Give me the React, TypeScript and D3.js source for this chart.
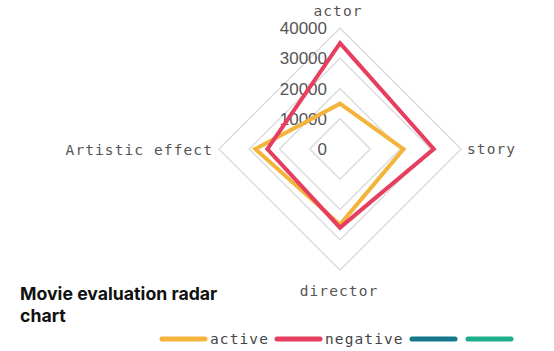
import React from "react";
import * as d3 from "d3";

const indicators = ["actor", "story", "director", "Artistic effect"];
const seriesNames = ["active", "negative", "", ""];
const activeValues = [15000, 21000, 25000, 28000];
const negativeValues = [35000, 31000, 26000, 24000];
const colors = ["#f4b43c", "#e53e5e", "#15788a", "#1eae8c"];
const gridLevels = [10000, 20000, 30000, 40000];
const tickLabels = [0, 10000, 20000, 30000, 40000];

const W = 554;
const H = 351;
const cx = 340;
const cy = 149;
const R = 121;

export default function App() {
  const r = d3.scaleLinear().domain([0, 40000]).range([0, R]);
  const angle = d3
    .scaleOrdinal<string, number>()
    .domain(indicators)
    .range([-Math.PI / 2, 0, Math.PI / 2, Math.PI]);
  const pt = (name: string, v: number): [number, number] => [
    cx + r(v) * Math.cos(angle(name)),
    cy + r(v) * Math.sin(angle(name)),
  ];
  const line = d3.line<[number, number]>().curve(d3.curveLinearClosed);
  const series = [activeValues, negativeValues];

  const monoFont = "'DejaVu Sans Mono', monospace";
  const labelPos: Record<string, { x: number; y: number; anchor: string }> = {
    actor: { x: cx - 2, y: 16, anchor: "middle" },
    story: { x: cx + R + 6, y: cy + 5, anchor: "start" },
    director: { x: cx - 1, y: cy + 147, anchor: "middle" },
    "Artistic effect": { x: cx - R - 6, y: cy + 6, anchor: "end" },
  };

  const legendX = [160, 275, 410, 466];

  return (
    <svg
      width={W}
      height={H}
      style={{ position: "absolute", left: 0, top: 0, display: "block", background: "#fff" }}
    >
      {gridLevels.map((lv) => (
        <path
          key={lv}
          d={line(indicators.map((n) => pt(n, lv))) || ""}
          fill="none"
          stroke="#dcdcdc"
          strokeWidth={1.5}
        />
      ))}
      {tickLabels.map((t) => (
        <text
          key={t}
          x={cx - 13}
          y={cy - r(t)}
          dy="0.36em"
          textAnchor="end"
          fontFamily="'Liberation Sans', Arial, sans-serif"
          fontSize={17}
          fill="#555"
        >
          {t}
        </text>
      ))}
      {series.map((vals, i) => (
        <path
          key={i}
          d={line(indicators.map((n, j) => pt(n, vals[j]))) || ""}
          fill="none"
          stroke={colors[i]}
          strokeWidth={4}
          strokeLinejoin="miter"
        />
      ))}
      {indicators.map((n) => (
        <text
          key={n}
          x={labelPos[n].x}
          y={labelPos[n].y}
          textAnchor={labelPos[n].anchor as any}
          fontFamily={monoFont}
          fontSize={14.5}
          letterSpacing={1.1}
          fill="#555"
        >
          {n}
        </text>
      ))}
      <text
        x={20}
        y={300}
        fontFamily="Inter, 'Noto Sans', sans-serif"
        fontWeight="bold"
        fontSize={17.7}
        fill="#111"
      >
        <tspan x={20} y={300}>Movie evaluation radar</tspan>
        <tspan x={20} y={322}>chart</tspan>
      </text>
      {seriesNames.map((name, i) => (
        <g key={i}>
          <line
            x1={legendX[i] + 2}
            x2={legendX[i] + 45}
            y1={339}
            y2={339}
            stroke={colors[i]}
            strokeWidth={5}
            strokeLinecap="round"
          />
          {name && (
            <text
              x={legendX[i] + 50}
              y={344}
              fontFamily={monoFont}
              fontSize={14.5}
              letterSpacing={1.1}
              fill="#444"
            >
              {name}
            </text>
          )}
        </g>
      ))}
    </svg>
  );
}
